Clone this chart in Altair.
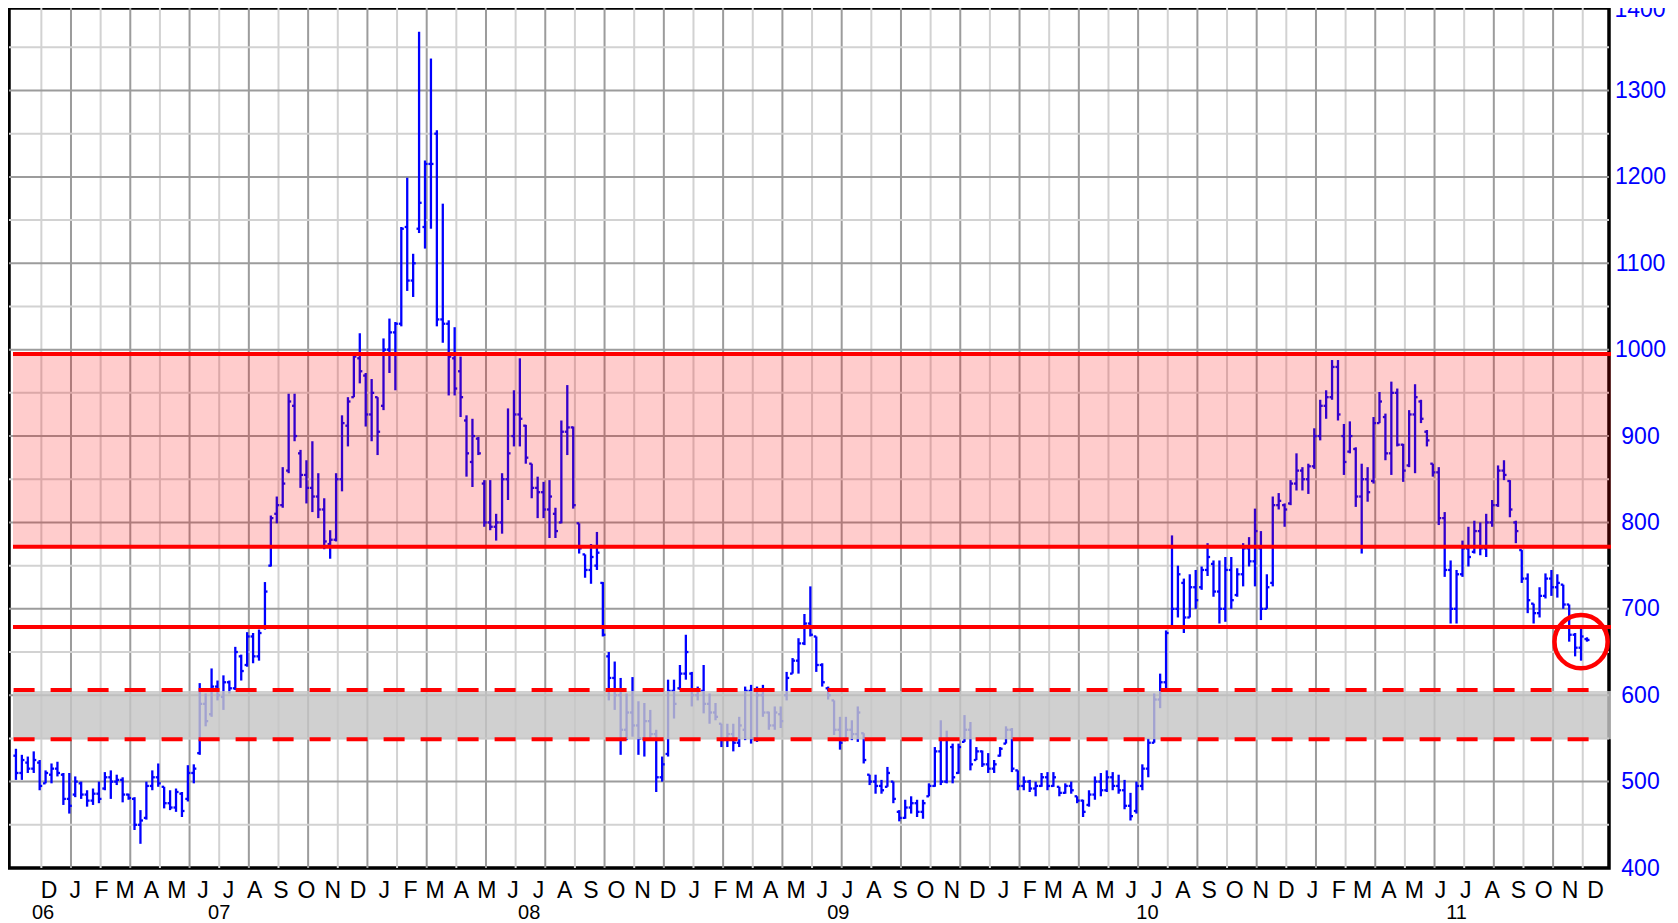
import altair as alt
import pandas as pd

# ---------------- data (weekly bars) ----------------
first_week = "2006-10-23"

highs = [538, 531, 529, 535, 525, 513, 521, 523, 510, 510,
         506, 500, 490, 492, 500, 511, 513, 508, 505, 486,
         482, 467, 500, 513, 521, 494, 490, 492, 488, 519,
         520, 614, 602, 631, 617, 623, 617, 656, 647, 673,
         672, 676, 731, 808, 830, 864, 949, 949, 884, 872,
         894, 857, 828, 791, 857, 924, 945, 997, 1019, 973,
         966, 945, 1013, 1036, 1032, 1142, 1199, 1111, 1368, 1219,
         1337, 1254, 1169, 1034, 1026, 992, 924, 920, 899, 849,
         849, 810, 857, 932, 953, 990, 913, 868, 853, 847,
         849, 817, 918, 959, 911, 799, 763, 775, 789, 731,
         650, 639, 620, 602, 621, 593, 591, 583, 560, 529,
         618, 618, 635, 670, 627, 610, 635, 602, 591, 567,
         567, 567, 575, 610, 612, 610, 612, 581, 587, 587,
         627, 643, 666, 694, 726, 668, 637, 610, 594, 575,
         575, 571, 587, 556, 508, 508, 502, 517, 500, 467,
         479, 483, 479, 479, 498, 540, 571, 559, 544, 544,
         577, 569, 540, 536, 533, 525, 540, 564, 562, 513,
         506, 502, 500, 510, 511, 511, 494, 498, 500, 483,
         479, 490, 506, 510, 513, 511, 508, 502, 487, 500,
         520, 550, 602, 625, 675, 785, 750, 735, 740, 745,
         749, 776, 756, 756, 760, 760, 747, 776, 783, 816,
         790, 740, 830, 834, 822, 849, 880, 864, 868, 909,
         942, 953, 988, 988, 914, 917, 887, 868, 864, 922,
         951, 926, 963, 955, 891, 930, 960, 942, 907, 868,
         864, 812, 756, 745, 779, 795, 802, 800, 810, 826,
         866, 872, 849, 802, 768, 741, 706, 725, 741, 745,
         740, 728, 705, 672, 677, 667]

lows = [502, 502, 510, 510, 490, 498, 498, 506, 473, 463,
        482, 480, 471, 473, 475, 490, 480, 496, 476, 479,
        444, 428, 456, 490, 494, 469, 467, 465, 459, 477,
        498, 531, 564, 575, 594, 583, 602, 606, 617, 633,
        637, 640, 676, 749, 799, 817, 857, 894, 840, 822,
        812, 805, 769, 758, 778, 836, 888, 945, 961, 911,
        894, 878, 930, 973, 953, 1027, 1068, 1061, 1135, 1117,
        1140, 1027, 1008, 947, 947, 922, 853, 841, 878, 795,
        791, 779, 787, 826, 888, 888, 868, 828, 805, 805,
        782, 782, 799, 878, 816, 764, 736, 729, 745, 668,
        594, 583, 531, 548, 552, 531, 529, 548, 488, 500,
        529, 573, 606, 618, 587, 594, 579, 567, 571, 540,
        540, 535, 540, 548, 544, 546, 575, 560, 560, 562,
        594, 625, 625, 658, 668, 627, 610, 595, 554, 537,
        548, 548, 546, 521, 496, 486, 486, 494, 475, 454,
        457, 463, 459, 457, 483, 494, 496, 498, 498, 509,
        546, 513, 525, 517, 510, 510, 529, 544, 511, 490,
        490, 488, 483, 494, 490, 494, 483, 486, 486, 475,
        459, 471, 479, 483, 488, 490, 486, 468, 455, 463,
        490, 505, 545, 585, 605, 680, 690, 672, 690, 700,
        722, 738, 714, 683, 685, 700, 714, 726, 749, 726,
        687, 700, 726, 815, 795, 820, 837, 837, 833, 862,
        895, 920, 942, 918, 855, 880, 818, 764, 824, 845,
        915, 872, 855, 888, 847, 864, 857, 915, 888, 853,
        797, 737, 683, 683, 737, 749, 764, 762, 760, 795,
        818, 849, 806, 776, 730, 695, 683, 690, 712, 715,
        713, 700, 662, 645, 640, 662]

opens = [530, 510, 522, 515, 522, 498, 508, 515, 508, 480,
         485, 498, 485, 478, 486, 492, 505, 500, 502, 485,
         480, 450, 458, 495, 505, 494, 475, 470, 486, 480,
         510, 533, 590, 578, 610, 598, 615, 608, 645, 635,
         668, 645, 678, 750, 810, 820, 860, 935, 880, 855,
         840, 830, 815, 775, 780, 850, 912, 945, 990, 970,
         925, 945, 935, 1000, 1020, 1030, 1142, 1080, 1140, 1142,
         1215, 1250, 1035, 1030, 990, 975, 918, 870, 897, 845,
         800, 795, 800, 850, 900, 925, 912, 868, 840, 835,
         815, 810, 800, 905, 910, 799, 763, 745, 750, 730,
         645, 620, 600, 560, 580, 565, 550, 570, 555, 505,
         532, 605, 608, 625, 625, 600, 605, 590, 580, 567,
         550, 555, 545, 560, 605, 550, 600, 580, 565, 578,
         600, 625, 640, 660, 683, 668, 635, 608, 594, 560,
         548, 560, 555, 556, 508, 500, 495, 494, 500, 465,
         458, 470, 475, 465, 483, 495, 535, 500, 540, 510,
         546, 560, 525, 535, 520, 515, 530, 544, 560, 513,
         495, 500, 492, 495, 505, 495, 494, 487, 495, 483,
         478, 473, 485, 500, 490, 505, 495, 490, 472, 466,
         495, 515, 545, 595, 615, 680, 700, 730, 690, 725,
         725, 745, 752, 720, 700, 745, 716, 740, 770, 755,
         770, 700, 730, 820, 820, 822, 845, 860, 850, 865,
         900, 935, 945, 980, 900, 882, 885, 830, 850, 848,
         915, 922, 880, 950, 890, 866, 925, 940, 905, 868,
         858, 805, 745, 700, 740, 770, 766, 790, 770, 800,
         820, 860, 848, 800, 768, 735, 706, 695, 715, 735,
         725, 728, 705, 670, 655, 665]

closes = [510, 525, 515, 525, 495, 510, 515, 510, 480, 472,
          500, 485, 478, 486, 480, 505, 500, 502, 485, 481,
          450, 455, 495, 505, 498, 475, 470, 488, 466, 510,
          515, 590, 570, 610, 600, 615, 608, 650, 628, 668,
          645, 672, 720, 805, 820, 845, 940, 900, 855, 840,
          830, 815, 778, 780, 850, 915, 940, 992, 975, 925,
          950, 905, 1000, 1020, 1030, 1140, 1080, 1100, 1170, 1215,
          1215, 1035, 1030, 992, 955, 945, 880, 900, 880, 800,
          795, 800, 850, 880, 925, 920, 875, 840, 835, 815,
          830, 790, 905, 910, 820, 770, 745, 760, 765, 670,
          620, 600, 560, 580, 565, 550, 570, 555, 505, 520,
          605, 590, 625, 650, 600, 605, 590, 580, 575, 550,
          555, 545, 565, 605, 550, 600, 580, 565, 580, 570,
          620, 640, 660, 683, 670, 635, 615, 600, 560, 545,
          560, 555, 580, 525, 500, 495, 490, 510, 480, 458,
          470, 475, 465, 475, 495, 535, 500, 550, 505, 540,
          560, 520, 535, 520, 515, 520, 538, 560, 515, 495,
          500, 492, 495, 505, 495, 505, 487, 495, 490, 478,
          465, 485, 500, 490, 505, 495, 490, 472, 460, 495,
          515, 545, 595, 615, 672, 700, 740, 690, 725, 710,
          745, 760, 720, 700, 745, 710, 740, 770, 755, 790,
          700, 725, 820, 825, 815, 845, 860, 850, 865, 900,
          935, 945, 980, 925, 870, 900, 830, 850, 835, 915,
          940, 880, 950, 890, 860, 925, 945, 920, 895, 858,
          805, 745, 700, 740, 770, 760, 790, 770, 800, 820,
          860, 855, 815, 790, 735, 710, 695, 715, 735, 725,
          730, 705, 670, 655, 668, 664]

# price levels drawn on the chart
zone_low, zone_high = 772, 995           # pink zone
solid_levels = [995, 772, 679]           # solid red lines
grey_low, grey_high = 549, 605           # grey support band
dashed_levels = [606, 549]               # dashed red lines
circle_date, circle_value = "2011-11-14", 662

# axis labels
y_label_values = [400, 500, 600, 700, 800, 900, 1000, 1100, 1200, 1300]
y_top_label = [1400]
grid_major = [500, 600, 700, 800, 900, 1000, 1100, 1200, 1300]
grid_minor = [450, 550, 650, 750, 850, 950, 1050, 1150, 1250, 1350]
month_letters = ["J", "F", "M", "A", "M", "J", "J", "A", "S", "O", "N", "D"]
year_labels = ["06", "07", "08", "09", "10", "11"]
year_label_dates = ["2006-11-24", "2007-06-20", "2008-06-20",
                    "2009-06-20", "2010-06-20", "2011-06-20"]

# ---------------- tables ----------------
W, H = 1600, 860
dates = pd.date_range(first_week, periods=len(highs), freq="7D")
bars = pd.DataFrame({"date": dates, "high": highs, "low": lows,
                     "open": opens, "close": closes})
bars["date_l"] = bars["date"] - pd.Timedelta(days=3)
bars["date_r"] = bars["date"] + pd.Timedelta(days=3)

vgrid_light = pd.DataFrame({"date": pd.date_range("2006-11-22", "2011-12-16", freq="70D")})
vgrid_dark = pd.DataFrame({"date": pd.date_range("2006-12-27", "2011-12-16", freq="70D")})
hgrid_major = pd.DataFrame({"v": grid_major})
hgrid_minor = pd.DataFrame({"v": grid_minor})

month_starts = pd.date_range("2006-12-01", "2011-12-01", freq="MS")
months = pd.DataFrame({"date": month_starts,
                       "label": [month_letters[d.month - 1] for d in month_starts]})
years = pd.DataFrame({"date": pd.to_datetime(year_label_dates), "label": year_labels})

x_scale = alt.Scale(domain=[alt.DateTime(year=2006, month=10, date=14, hours=19, minutes=12),
                            alt.DateTime(year=2011, month=12, date=17)])
y_scale = alt.Scale(domain=[400, 1395.5], nice=False, zero=False)

FONT = "Liberation Sans"
BLUE = "#0000ff"
RED = "#ff0000"

y_axis = alt.Axis(orient="right", values=y_label_values, grid=False, ticks=False,
                  domain=False, labelColor=BLUE, labelFont=FONT, labelFontSize=23,
                  labelPadding=31, labelAlign="center", labelBaseline="middle",
                  labelOverlap=False, labelBound=False, labelFlush=False, format="d",
                  title=None)


def xenc(field):
    return alt.X(field, type="temporal", scale=x_scale, axis=None)


def yenc(field):
    return alt.Y(field, type="quantitative", scale=y_scale, axis=y_axis, title=None)


vl = alt.Chart(vgrid_light).mark_rule(color="#d2d2d2", strokeWidth=2).encode(
    x=xenc("date"), y=alt.value(0), y2=alt.value(H))
vd = alt.Chart(vgrid_dark).mark_rule(color="#9c9c9c", strokeWidth=2).encode(
    x=xenc("date"), y=alt.value(0), y2=alt.value(H))
hl = alt.Chart(hgrid_minor).mark_rule(color="#d2d2d2", strokeWidth=2).encode(
    y=yenc("v"), x=alt.value(0), x2=alt.value(W))
hd = alt.Chart(hgrid_major).mark_rule(color="#9c9c9c", strokeWidth=2).encode(
    y=yenc("v"), x=alt.value(0), x2=alt.value(W))

hilo = alt.Chart(bars).mark_rule(color=BLUE, strokeWidth=2.3).encode(
    x=xenc("date"), y=yenc("low"), y2="high:Q")
open_tick = alt.Chart(bars).mark_rule(color=BLUE, strokeWidth=2.3).encode(
    x=xenc("date_l"), x2="date:T", y=yenc("open"))
close_tick = alt.Chart(bars).mark_rule(color=BLUE, strokeWidth=2.3).encode(
    x=xenc("date"), x2="date_r:T", y=yenc("close"))

pink = alt.Chart(pd.DataFrame({"lo": [zone_low], "hi": [zone_high]})).mark_rect(
    color=RED, opacity=0.2).encode(x=alt.value(4), x2=alt.value(1602), y=yenc("lo"), y2="hi:Q")
grey = alt.Chart(pd.DataFrame({"lo": [grey_low], "hi": [grey_high]})).mark_rect(
    color="#c6c6c6", opacity=0.82).encode(x=alt.value(4), x2=alt.value(1602), y=yenc("lo"), y2="hi:Q")
solid = alt.Chart(pd.DataFrame({"v": solid_levels})).mark_rule(
    color=RED, strokeWidth=4).encode(y=yenc("v"), x=alt.value(4), x2=alt.value(1602))
dashed = alt.Chart(pd.DataFrame({"v": dashed_levels})).mark_rule(
    color=RED, strokeWidth=4, strokeDash=[21, 16]).encode(
    y=yenc("v"), x=alt.value(4.6), x2=alt.value(1590))
circle = alt.Chart(pd.DataFrame({"date": [pd.Timestamp(circle_date)], "v": [circle_value]})).mark_point(
    shape="circle", filled=False, color=RED, strokeWidth=4.5, size=2830, opacity=1).encode(
    x=xenc("date"), y=yenc("v"))

month_text = alt.Chart(months).mark_text(
    font=FONT, fontSize=23, color="black", align="center", baseline="alphabetic").encode(
    x=xenc("date"), y=alt.value(890), text="label:N")
year_text = alt.Chart(years).mark_text(
    font=FONT, fontSize=20, color="black", align="center", baseline="alphabetic").encode(
    x=xenc("date"), y=alt.value(911), text="label:N")
top_label = alt.Chart(pd.DataFrame({"v": y_top_label, "t": ["1400"]})).mark_text(
    font=FONT, fontSize=23, color=BLUE, align="center", baseline="middle", dy=6).encode(
    x=alt.value(W + 31), y=yenc("v"), text="t:N")

chart = alt.layer(
    vl, vd, hl, hd, hilo, open_tick, close_tick, pink, grey, solid, dashed, circle,
    month_text, year_text, top_label
).properties(
    width=W, height=H,
    autosize=alt.AutoSizeParams(type="none"),
    padding={"left": 1, "top": 0, "right": 61, "bottom": 55},
    background="white",
).configure_view(stroke="black", strokeWidth=3.5)

chart.save("out.html", embed_options={"renderer": "svg", "actions": False})
